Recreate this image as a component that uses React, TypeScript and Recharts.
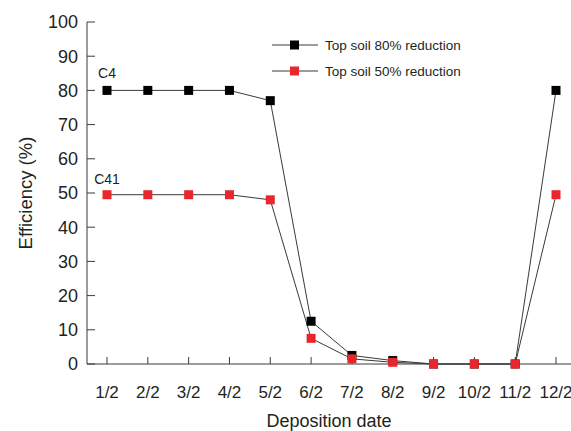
import React from "react";
import { LineChart, Line, XAxis, YAxis, ReferenceDot } from "recharts";

const categories = ["1/2", "2/2", "3/2", "4/2", "5/2", "6/2", "7/2", "8/2", "9/2", "10/2", "11/2", "12/2"];
const top80 = [80, 80, 80, 80, 77, 12.5, 2.5, 1, 0, 0, 0, 80];
const top50 = [49.5, 49.5, 49.5, 49.5, 48, 7.5, 1.5, 0.5, 0, 0, 0, 49.5];
const yTicks = [0, 10, 20, 30, 40, 50, 60, 70, 80, 90, 100];
const seriesNames = ["Top soil 80% reduction", "Top soil 50% reduction"];

const data = categories.map((c, i) => ({ date: c, a: top80[i], b: top50[i] }));

const FONT = "'Liberation Sans', Arial, sans-serif";
const TXT = "#231f20";
const AX = "#3a3a3a";

const squareDot = (color: string) => (props: any) => {
  const { cx, cy, index } = props;
  if (cx == null || cy == null) return <g key={index} />;
  return <rect key={index} x={cx - 4.5} y={cy - 4.5} width={9} height={9} fill={color} />;
};

const LegendBox = () => (
  <div style={{ position: "absolute", left: 272, top: 32, width: 270, fontFamily: FONT, fontSize: 13.5, color: TXT }}>
    {[{ n: seriesNames[0], c: "#000000" }, { n: seriesNames[1], c: "#e8262b" }].map((it, i) => (
      <div key={i} style={{ display: "flex", alignItems: "center", height: 26 }}>
        <svg width={46} height={12} style={{ marginRight: 7 }}>
          <line x1={0} y1={6} x2={46} y2={6} stroke={AX} strokeWidth={1} />
          <rect x={18} y={1.5} width={9} height={9} fill={it.c} />
        </svg>
        <span>{it.n}</span>
      </div>
    ))}
  </div>
);

export default function App() {
  return (
    <div style={{ position: "absolute", left: 0, top: 0, width: 571, height: 431, background: "#fff" }}>
      <LineChart
        width={571}
        height={431}
        data={data}
        margin={{ top: 22, right: 0, bottom: 27, left: 27 }}
        style={{ fontFamily: FONT }}
      >
        <XAxis
          dataKey="date"
          padding={{ left: 20, right: 15 }}
          height={40}
          tickSize={-7}
          tickMargin={29}
          stroke={AX}
          tick={{ fill: TXT, fontSize: 17, fontFamily: FONT }}
          interval={0}
          label={{ value: "Deposition date", position: "insideBottom", offset: -23, fill: TXT, fontSize: 18, fontFamily: FONT }}
        />
        <YAxis
          domain={[0, 100]}
          ticks={yTicks}
          width={60}
          tickSize={-8}
          tickMargin={17}
          stroke={AX}
          interval={0}
          tick={{ fill: TXT, fontSize: 18, fontFamily: FONT }}
          label={{ value: "Efficiency (%)", angle: -90, position: "insideLeft", offset: -2, fill: TXT, fontSize: 18.5, fontFamily: FONT, style: { textAnchor: "middle" } }}
        />
        <Line
          dataKey="a"
          name={seriesNames[0]}
          stroke={AX}
          strokeWidth={1}
          dot={squareDot("#000000")}
          activeDot={false}
          isAnimationActive={false}
        />
        <Line
          dataKey="b"
          name={seriesNames[1]}
          stroke={AX}
          strokeWidth={1}
          dot={squareDot("#e8262b")}
          activeDot={false}
          isAnimationActive={false}
        />
        <ReferenceDot x="1/2" y={80} r={0} fill="none" stroke="none" label={{ value: "C4", position: "top", offset: 12, fill: TXT, fontSize: 14, fontFamily: FONT }} />
        <ReferenceDot x="1/2" y={49.5} r={0} fill="none" stroke="none" label={{ value: "C41", position: "top", offset: 11, fill: TXT, fontSize: 14, fontFamily: FONT }} />
      </LineChart>
      <LegendBox />
    </div>
  );
}
